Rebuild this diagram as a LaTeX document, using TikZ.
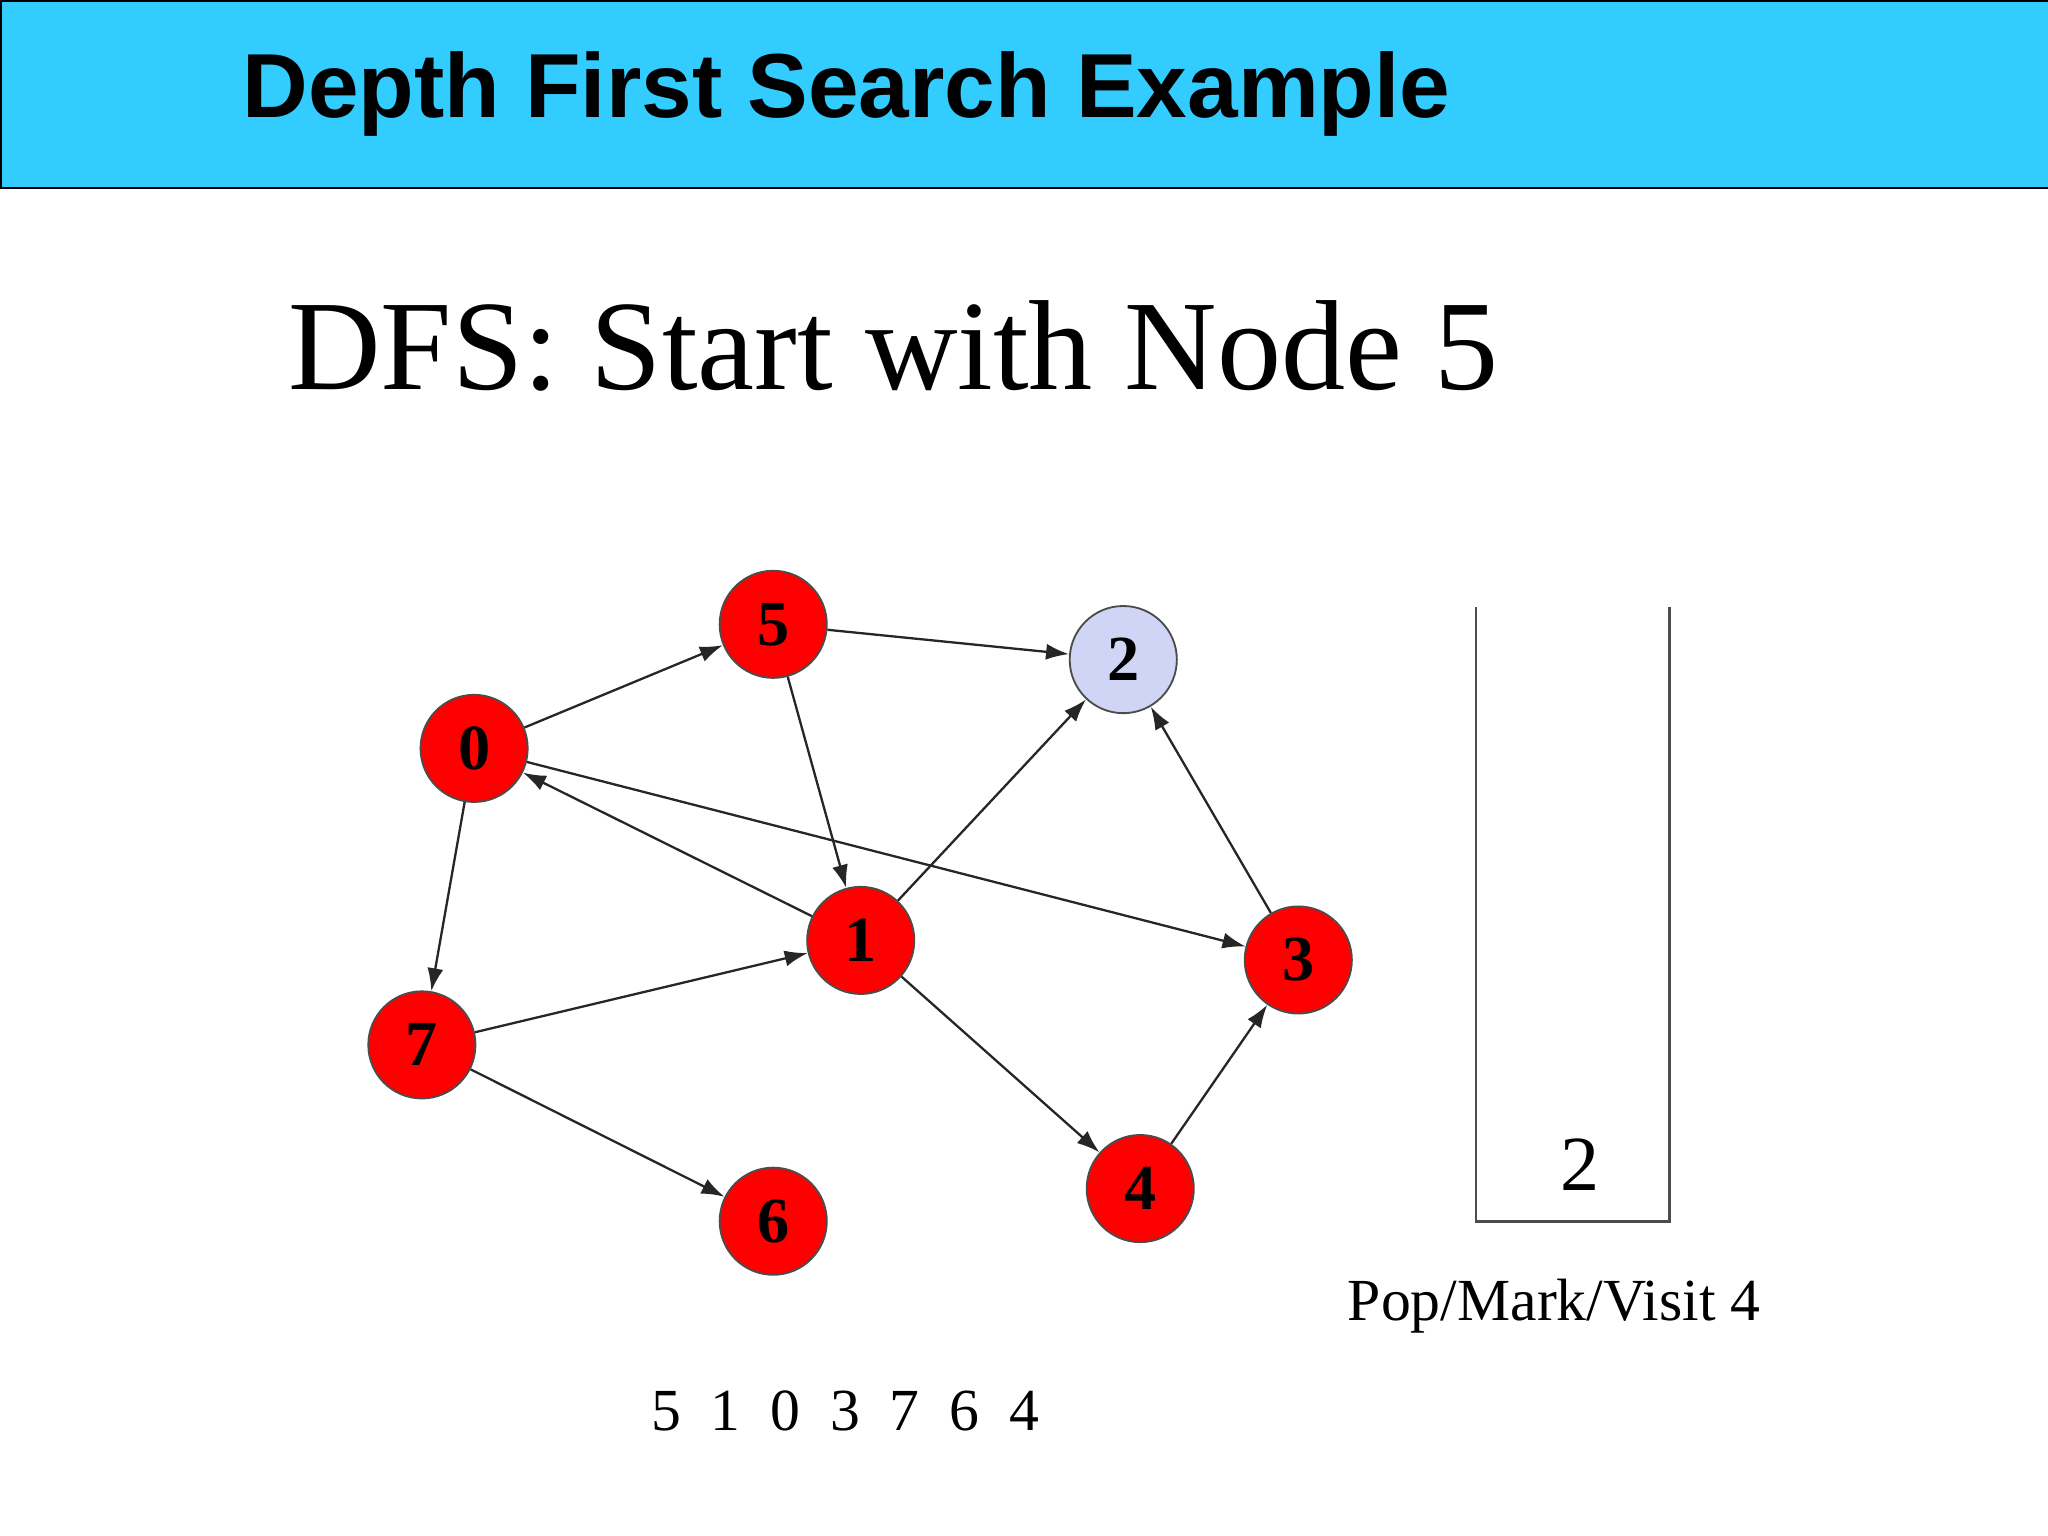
\documentclass[tikz,border=0pt]{standalone}
\usepackage{fontspec}
\setmainfont{Liberation Serif}
\newfontfamily\titlefont{Liberation Sans}
\usetikzlibrary{arrows.meta}
\begin{document}
\begin{tikzpicture}[x=0.01cm,y=-0.01cm,
  vert/.style={circle,draw=black!70,fill=red,minimum size=0.82cm,inner sep=0pt,font=\fontsize{14}{14}\selectfont\bfseries},
  edge/.style={-{Latex[length=5pt,width=3.5pt]},black!85,line width=0.5pt}]
\useasboundingbox[fill=white] (0,0) rectangle (1568,1176);
\node[draw=black,fill={rgb,255:red,51;green,204;blue,255},minimum width=15.68cm,minimum height=1.43cm,inner sep=0pt,anchor=north west] (bar) at (0,0) {};
\node[anchor=west,inner sep=0pt,font=\titlefont\bfseries\fontsize{19.8}{19.8}\selectfont] (title) at (185,72) {Depth First Search Example};
\node[anchor=west,inner sep=0pt,font=\fontsize{27.9}{27.9}\selectfont] (sub) at (220,265) {DFS: Start with Node 5};
\node[vert] (n5) at (592,478) {5};
\node[vert,fill={rgb,255:red,208;green,212;blue,245}] (n2) at (860,505) {2};
\node[vert] (n0) at (363,573) {0};
\node[vert] (n1) at (659,720) {1};
\node[vert] (n3) at (994,735) {3};
\node[vert] (n7) at (323,800) {7};
\node[vert] (n4) at (873,910) {4};
\node[vert] (n6) at (592,935) {6};
\draw[edge] (n5) -- (n2);
\draw[edge] (n0) -- (n5);
\draw[edge] (n5) -- (n1);
\draw[edge] (n1) -- (n0);
\draw[edge] (n0) -- (n3);
\draw[edge] (n0) -- (n7);
\draw[edge] (n7) -- (n1);
\draw[edge] (n1) -- (n2);
\draw[edge] (n3) -- (n2);
\draw[edge] (n1) -- (n4);
\draw[edge] (n4) -- (n3);
\draw[edge] (n7) -- (n6);
\coordinate (sa) at (1130,465);
\coordinate (sb) at (1278,465);
\draw[black!70,line width=0.6pt] (sa) -- (1130,935) -- (1278,935) -- (sb);
\node[font=\fontsize{17}{17}\selectfont] (s2) at (1210,892) {2};
\node[font=\fontsize{13}{13}\selectfont] (pop) at (1190,1000) {Pop/Mark/Visit 4};
\node[font=\fontsize{13}{13}\selectfont] (ord) at (647,1080) {5\hspace{0.5em}1\hspace{0.5em}0\hspace{0.5em}3\hspace{0.5em}7\hspace{0.5em}6\hspace{0.5em}4};
\end{tikzpicture}
\end{document}
